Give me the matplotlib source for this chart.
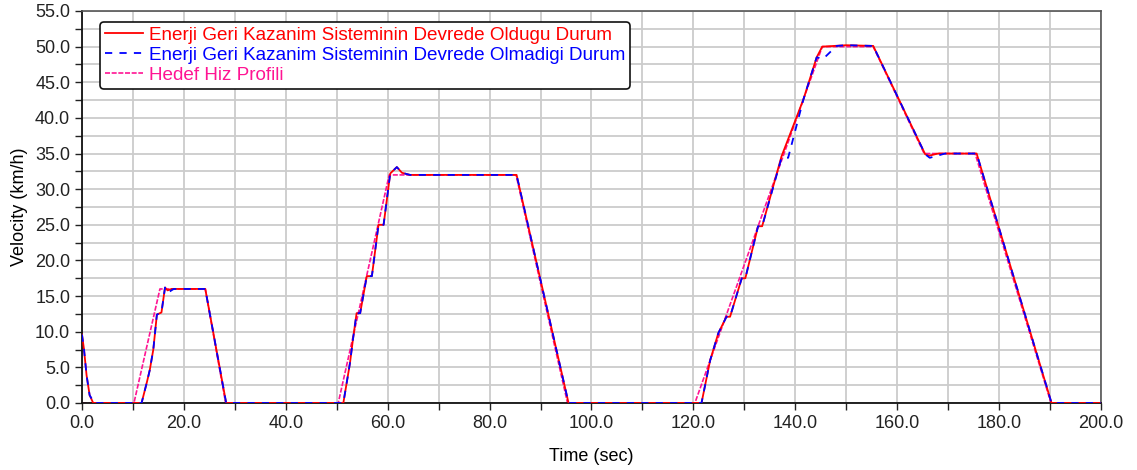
import matplotlib
matplotlib.use("Agg")
import matplotlib.pyplot as plt
from matplotlib.ticker import MultipleLocator, FormatStrFormatter

plt.rcParams['font.family'] = ['Liberation Sans', 'DejaVu Sans']

# Target speed profile (km/h)
t_target = [0, 10.2, 15.3, 24.2, 28.2, 50.3, 60.3, 85.2, 95.3,
            120.3, 145.3, 155.3, 165.3, 175.3, 190.2, 200]
v_target = [0, 0, 16, 16, 0, 0, 32, 32, 0,
            0, 50, 50, 35, 35, 0, 0]

# Vehicle speed with energy recovery system active
t_regen = [0, 0.4, 0.9, 1.5, 2.2, 11.7, 12.7, 13.3, 14.0, 14.7, 15.6, 16.3, 16.8, 17.6,
           24.2, 28.3, 51.3, 52.6, 53.2, 53.9, 54.6, 55.9, 56.9, 58.2, 59.2, 60.5,
           61.8, 62.8, 64.4, 85.3, 95.5, 121.6, 123.3, 124.9, 126.5, 127.2, 129.5,
           130.2, 132.7, 133.5, 137.3, 141.6, 144.2, 145.3, 150.0, 155.3, 165.5,
           166.3, 168.0, 175.6, 190.3, 200]
v_regen = [9.6, 7.5, 3.9, 1.1, 0, 0, 2.8, 4.6, 7.5, 12.4, 12.7, 16.2, 15.8, 16.0,
           16.0, 0, 0, 5.6, 9.0, 12.6, 12.6, 17.8, 17.8, 25.0, 25.0, 32.2,
           33.1, 32.3, 32.0, 32.0, 0, 0, 6.0, 9.8, 12.1, 12.1, 17.5,
           17.5, 24.8, 24.8, 34.6, 42.6, 48.5, 50.0, 50.2, 50.1, 34.9,
           34.7, 35.0, 35.0, 0, 0]

# Vehicle speed without energy recovery system
t_plain = [0, 0.4, 0.9, 1.5, 2.4, 11.7, 12.7, 13.3, 14.0, 14.7, 15.6, 16.3, 16.9, 18.0,
           24.2, 28.3, 51.3, 52.6, 53.2, 53.9, 54.6, 55.9, 56.9, 58.2, 59.2, 60.5,
           61.8, 62.8, 64.4, 85.3, 95.5, 121.6, 123.3, 124.9, 126.5, 127.2, 129.5,
           130.2, 132.7, 133.5, 137.3, 138.6, 141.6, 144.2, 145.5, 148.1, 150.0,
           155.3, 165.5, 166.4, 169.4, 175.6, 190.3, 200]
v_plain = [9.6, 7.5, 3.9, 1.1, 0, 0, 2.8, 4.6, 7.5, 12.4, 12.7, 16.2, 15.5, 16.0,
           16.0, 0, 0, 5.6, 9.0, 12.6, 12.6, 17.8, 17.8, 25.0, 25.0, 32.2,
           33.1, 32.3, 32.0, 32.0, 0, 0, 6.0, 9.8, 12.1, 12.1, 17.5,
           17.5, 24.8, 24.8, 34.4, 34.4, 42.6, 48.5, 48.3, 50.1, 50.2,
           50.1, 34.9, 34.4, 35.0, 35.0, 0, 0]

label_regen = "Enerji Geri Kazanim Sisteminin Devrede Oldugu Durum"
label_plain = "Enerji Geri Kazanim Sisteminin Devrede Olmadigi Durum"
label_target = "Hedef Hiz Profili"

fig = plt.figure(figsize=(11.37, 4.70), dpi=100)
ax = fig.add_axes([0.0721, 0.1426, 0.8962, 0.8340])

ax.plot(t_regen, v_regen, color='#ff0000', lw=1.3, ls='-', label=label_regen, zorder=3)
ax.plot(t_plain, v_plain, color='#0000ff', lw=1.3, ls=(0, (4, 4)), label=label_plain, zorder=4)
ax.plot(t_target, v_target, color='#ff1493', lw=1.2, ls=(0, (3, 1)), label=label_target, zorder=2)

ax.set_xlim(0, 200)
ax.set_ylim(0, 55)
ax.xaxis.set_major_locator(MultipleLocator(20))
ax.xaxis.set_minor_locator(MultipleLocator(10))
ax.yaxis.set_major_locator(MultipleLocator(5))
ax.yaxis.set_minor_locator(MultipleLocator(2.5))
ax.xaxis.set_major_formatter(FormatStrFormatter('%.1f'))
ax.yaxis.set_major_formatter(FormatStrFormatter('%.1f'))
ax.grid(True, which='both', color='#cccccc', lw=1.3, zorder=0)
ax.set_axisbelow(True)

ax.tick_params(which='both', direction='out', colors='#222222', labelsize=13)
ax.tick_params(which='major', length=5, width=1)
ax.tick_params(which='minor', length=5, width=1)

for side in ('left', 'bottom'):
    ax.spines[side].set_color('#111111')
    ax.spines[side].set_linewidth(1.3)
for side in ('top', 'right'):
    ax.spines[side].set_color('#555555')
    ax.spines[side].set_linewidth(1.2)

ax.set_xlabel("Time (sec)", fontsize=13, labelpad=12)
ax.set_ylabel("Velocity (km/h)", fontsize=13, labelpad=5)

leg = ax.legend(loc='upper left', bbox_to_anchor=(0.0177, 0.972), borderaxespad=0,
                fontsize=13.6, frameon=True, fancybox=True, framealpha=1,
                edgecolor='#111111', handlelength=2.0, handletextpad=0.35,
                borderpad=0.25, labelspacing=0.15)
leg.get_frame().set_linewidth(1.2)
for txt, col in zip(leg.get_texts(), ['#ff0000', '#0000ff', '#ff1493']):
    txt.set_color(col)

fig.savefig("out.png", dpi=100)
